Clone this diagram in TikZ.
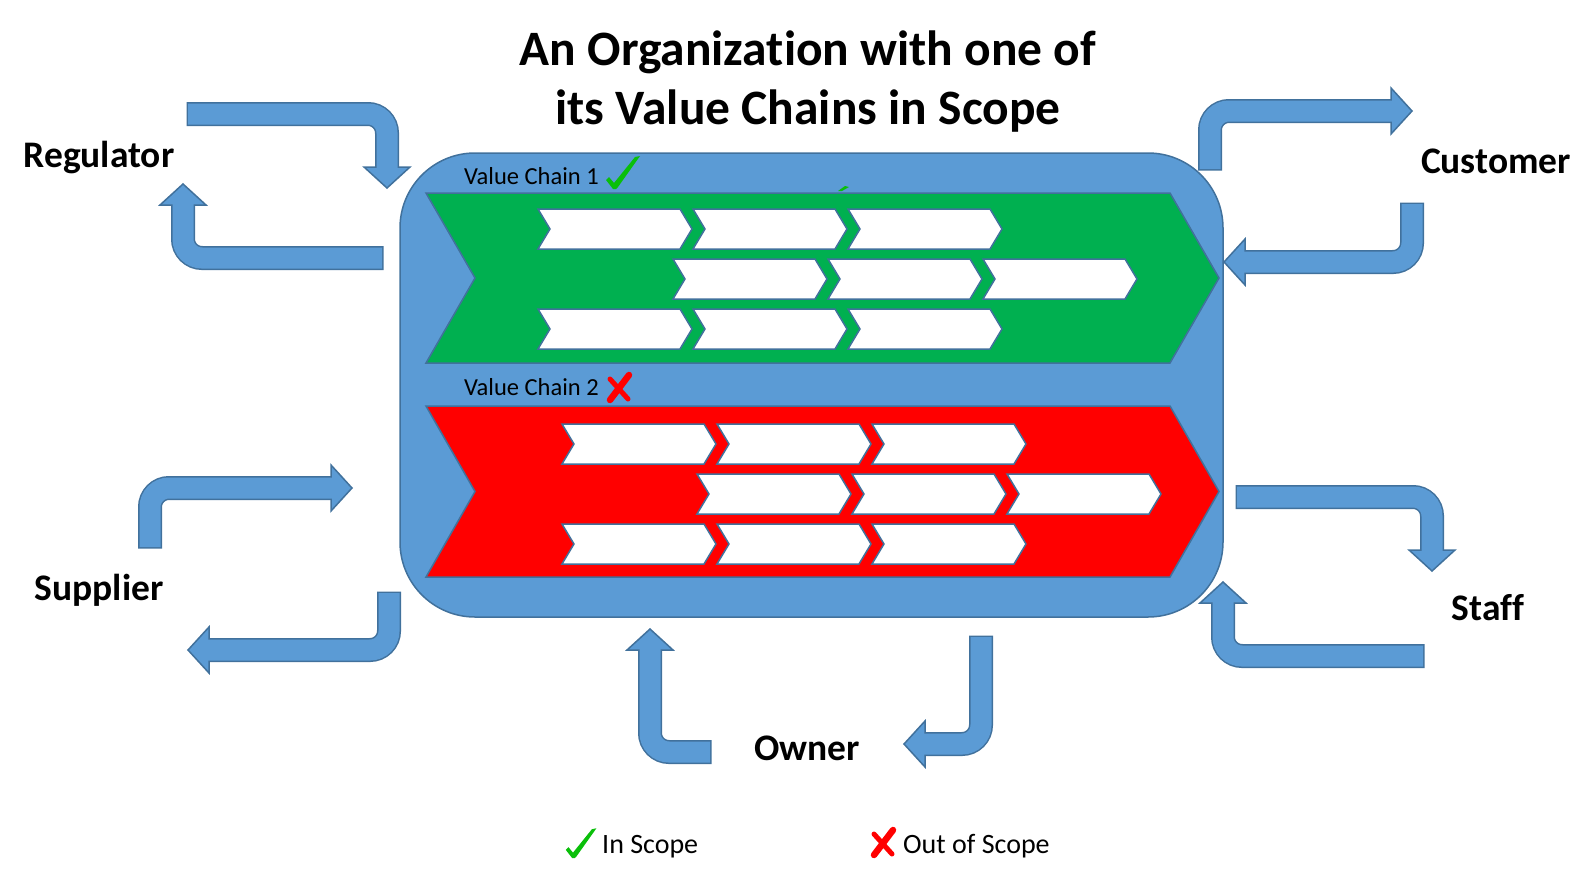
\documentclass[tikz,border=0pt]{standalone}
\usepackage{fontspec}
\setmainfont{Carlito}[Ligatures=NoCommon]
\usetikzlibrary{calc}

\definecolor{orgblue}{HTML}{5B9BD5}
\definecolor{edgeblue}{HTML}{41719C}
\definecolor{chaingreen}{HTML}{00B050}
\definecolor{chainred}{HTML}{FF0000}
\definecolor{tickgreen}{HTML}{0ABF0A}

% bent block arrow: tail, corner, tip
\newcommand{\bentarrow}[3]{%
  \coordinate (hb) at ($#3!21pt!#2$);
  \draw[line width=24pt, edgeblue, rounded corners=19pt] ($#1!-1.5pt!#2$) -- #2 -- (hb);
  \filldraw[fill=orgblue, draw=edgeblue, line width=1.5pt, line join=miter] ($(hb)!23pt!90:#3$) -- #3 -- ($(hb)!23pt!-90:#3$) -- cycle;
  \draw[line width=21pt, orgblue, rounded corners=19pt] #1 -- #2 -- ($(hb)!1.5pt!#3$);
}
% chevron: style, left, top, width, height, depth
\newcommand{\chevron}[6]{\draw[#1] (#2,#3) -- ++(#4-#6,0) -- ++(#6,#5/2) -- ++(-#6,#5/2) -- ++(-#4+#6,0) -- ++(#6,-#5/2) -- cycle;}
% check mark and cross
\newcommand{\tick}[2]{\fill[tickgreen, shift={#1}, scale=#2] (-1,0) -- (-8,-9) -- (-5,-12) -- (0,-6) -- (21,-32) -- (26,-33) -- (4,-2) -- (2,0) -- cycle;}
\newcommand{\cross}[1]{\begin{scope}[shift={#1}]
  \draw[chainred, line width=6.5pt, line cap=round] (-9,12) -- (10,-13);
  \draw[chainred, line width=5pt, line cap=round] (-9,-9) -- (9,11);
\end{scope}}

\begin{document}
\begin{tikzpicture}[x=1pt,y=-1pt,
	orgbox/.style={rectangle, rounded corners=75pt, fill=orgblue, draw=edgeblue, line width=1.5pt, minimum width=823pt, minimum height=464pt, inner sep=0pt},
	title/.style={font=\bfseries\fontsize{49.5}{60}\selectfont, anchor=base},
	party/.style={font=\bfseries\fontsize{37.5}{42}\selectfont, anchor=base},
	chainlabel/.style={font=\fontsize{24.5}{28}\selectfont, anchor=base west, inner sep=0pt},
	legend/.style={font=\fontsize{28}{32}\selectfont, anchor=base west, inner sep=0pt},
	greenchain/.style={fill=chaingreen, draw=edgeblue, line width=1.5pt},
	redchain/.style={fill=chainred, draw=edgeblue, line width=1.5pt},
	stepchain/.style={fill=white, draw=edgeblue, line width=1.5pt},
	]
	\useasboundingbox (0,0) rectangle (1593,879);
	
	%Nodes
	\node[title] (title1) at (808,65) {An Organization with one of};
	\node[title] (title2) at (808,124) {its Value Chains in Scope};
	\node[orgbox] (org) at (811.5,385) {};
	
	\node[party] (regulator) at (99,167) {Regulator};
	\node[party] (customer) at (1496,173) {Customer};
	\node[party] (supplier) at (99,600) {Supplier};
	\node[party] (staff) at (1488,620) {Staff};
	\node[party] (owner) at (807,760) {Owner};
	
	%Value chains
	\node[chainlabel] (vc1) at (464,184) {Value Chain 1};
	\tick{(614,189)}{1}
	\fill[tickgreen] (838,191) -- (845,186) -- (849,187) -- (842,191) -- cycle;
	\chevron{greenchain}{426}{193}{793}{170}{49}
	\foreach \row/\x in {209/538, 259/673, 309/538}
		\foreach \i in {0,1,2}
			{\chevron{stepchain}{\x+155*\i}{\row}{154}{40}{12}}
	
	\node[chainlabel] (vc2) at (464,395) {Value Chain 2};
	\cross{(619,388)}
	\chevron{redchain}{426}{406}{793}{171}{49}
	\foreach \row/\x in {424/562, 474/697, 524/562}
		\foreach \i in {0,1,2}
			{\chevron{stepchain}{\x+155*\i}{\row}{154}{40}{12}}
	
	%Arrows
	\bentarrow{(188,114)}{(387,114)}{(387,188)}
	\bentarrow{(382,258)}{(183,258)}{(183,184)}
	\bentarrow{(1210,169)}{(1210,111)}{(1412,111)}
	\bentarrow{(1412,204)}{(1412,262)}{(1224,262)}
	\bentarrow{(1237,497)}{(1432,497)}{(1432,571)}
	\bentarrow{(1423,656)}{(1223,656)}{(1223,582)}
	\bentarrow{(150,547)}{(150,488)}{(352,488)}
	\bentarrow{(389,593)}{(389,650)}{(188,650)}
	\bentarrow{(710,752)}{(650,752)}{(650,629)}
	\bentarrow{(981,637)}{(981,744)}{(904,744)}
	
	%Legend
	\tick{(573,858)}{0.9}
	\node[legend] (inscope) at (602,853) {In Scope};
	\cross{(883,843)}
	\node[legend] (outscope) at (903,853) {Out of Scope};
\end{tikzpicture}
\end{document}
